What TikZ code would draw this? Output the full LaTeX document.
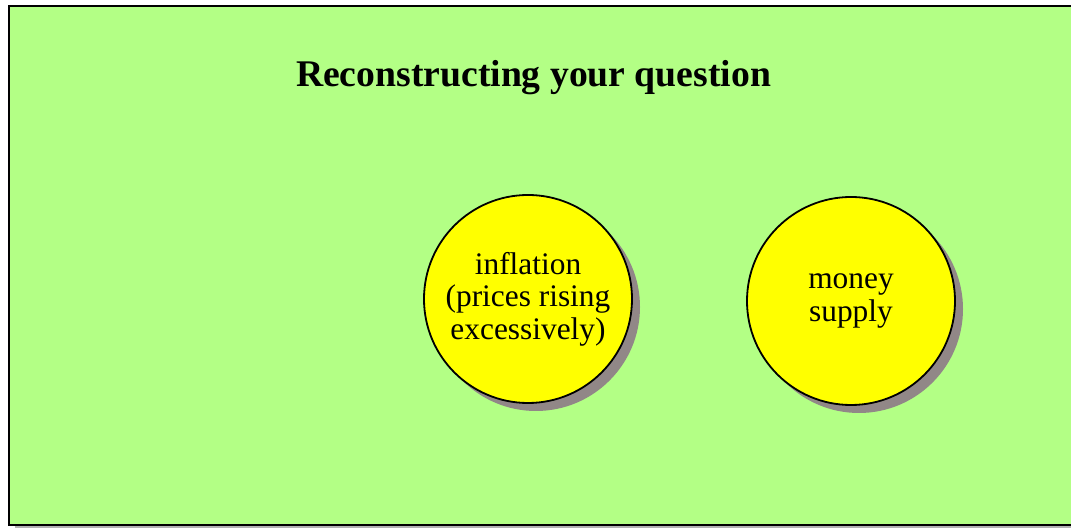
\documentclass[tikz,border=0pt]{standalone}
\usepackage{fontspec}
\setmainfont{Liberation Serif}
\usetikzlibrary{shadows}

\definecolor{boardgreen}{RGB}{179,255,133}
\definecolor{ballyellow}{RGB}{255,255,0}
\definecolor{shadowgray}{RGB}{145,135,135}

\begin{document}
\begin{tikzpicture}[x=1bp,y=1bp,
  ball/.style={circle,draw=black,line width=1.8bp,fill=ballyellow,
    minimum size=208bp,inner sep=0pt,align=center,
    font=\fontsize{31.5}{32.5}\selectfont,
    drop shadow={shadow xshift=8bp,shadow yshift=-8bp,fill=shadowgray,opacity=1}}]
\useasboundingbox (0,0) rectangle (1071,529);
\clip (0,0) rectangle (1071,529);
% board
\fill[gray!60] (15,1) rectangle (1080,520);
\draw[line width=2.5bp,fill=boardgreen] (9,4) rectangle (1080,523);
\node[font=\fontsize{37.8}{40}\selectfont\bfseries,anchor=base] (title) at (533.5,442) {Reconstructing your question};
% circles
\node[ball] (inflation) at (528,230) {inflation\\(prices rising\\excessively)};
\node[ball] (money) at (851,228) {money\\supply};
\end{tikzpicture}
\end{document}
